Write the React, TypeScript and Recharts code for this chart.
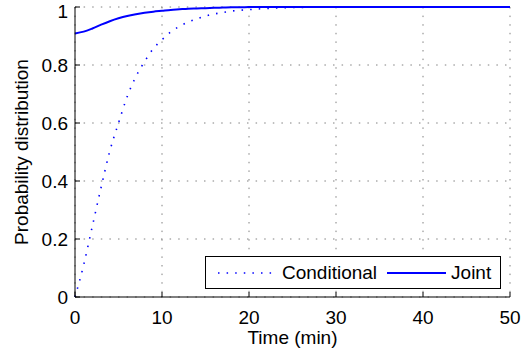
import React from 'react';
import { LineChart, Line, XAxis, YAxis, CartesianGrid, Legend } from 'recharts';

// minutes
const times = [0, 1, 2, 3, 4, 5, 6, 7, 8, 9, 10, 11, 12, 13, 14, 15, 16, 17, 18, 19, 20, 22, 25, 30, 40, 50];
const conditional = [
  0, 0.111, 0.245, 0.378, 0.503, 0.6, 0.691, 0.76, 0.812, 0.856, 0.887, 0.914, 0.933, 0.948, 0.959,
  0.969, 0.976, 0.981, 0.986, 0.989, 0.991, 0.995, 0.998, 1, 1, 1,
];
const joint = [
  0.909, 0.915, 0.926, 0.939, 0.951, 0.961, 0.969, 0.975, 0.98, 0.984, 0.987, 0.99, 0.992, 0.994, 0.995,
  0.996, 0.997, 0.998, 0.999, 0.999, 1, 1, 1, 1, 1, 1,
];
const xTicks = [0, 10, 20, 30, 40, 50];
const yTicks = [0, 0.2, 0.4, 0.6, 0.8, 1];

const rows = times.map((t, i) => ({ t, conditional: conditional[i], joint: joint[i] }));

const FONT = '"Liberation Sans", Arial, sans-serif';
const BLUE = '#0000ff';
const DOTS = '1.5 7.1';

const LegendBox = (props: any) => {
  const { payload = [] } = props;
  return (
    <div
      style={{
        boxSizing: 'border-box',
        width: 296,
        height: 33,
        border: '1px solid #000',
        background: '#fff',
        display: 'flex',
        alignItems: 'center',
        fontFamily: FONT,
        fontSize: 19,
        color: '#000',
        lineHeight: 1,
      }}
    >
      {payload.map((entry: any, i: number) => {
        const dotted = entry.dataKey === 'conditional';
        const w = dotted ? 54 : 59;
        return (
          <React.Fragment key={entry.value}>
            <svg width={w} height={10} style={{ marginLeft: i === 0 ? 12 : 10, display: 'block' }}>
              <line
                x1={0}
                y1={5}
                x2={w}
                y2={5}
                stroke={entry.color}
                strokeWidth={dotted ? 1.6 : 2}
                strokeDasharray={dotted ? DOTS : undefined}
              />
            </svg>
            <span style={{ marginLeft: dotted ? 10 : 5 }}>{entry.value}</span>
          </React.Fragment>
        );
      })}
    </div>
  );
};

export default function App() {
  return (
    <div style={{ position: 'absolute', left: 0, top: 0, background: '#fff' }}>
      <LineChart
        width={527}
        height={356}
        data={rows}
        margin={{ top: 7, right: 17, left: 0, bottom: 0 }}
        style={{ fontFamily: FONT }}
      >
        <CartesianGrid stroke="#808080" strokeDasharray={DOTS} />
        <XAxis
          dataKey="t"
          type="number"
          domain={[0, 50]}
          ticks={xTicks}
          height={59}
          tickSize={-5}
          tickMargin={19}
          axisLine={{ stroke: '#000' }}
          tickLine={{ stroke: '#000' }}
          tick={{ fontSize: 19, fill: '#000', fontFamily: FONT }}
          label={{ value: 'Time (min)', position: 'insideBottom', offset: 12, fontSize: 19, fill: '#000', fontFamily: FONT }}
        />
        <YAxis
          type="number"
          domain={[0, 1]}
          ticks={yTicks}
          width={75}
          tickSize={-5}
          tickMargin={12}
          axisLine={{ stroke: '#000' }}
          tickLine={{ stroke: '#000' }}
          tick={{ fontSize: 19, fill: '#000', fontFamily: FONT }}
          label={{
            value: 'Probability distribution',
            angle: -90,
            position: 'center',
            dx: -16,
            fontSize: 19,
            fill: '#000',
            fontFamily: FONT,
          }}
        />
        <Legend
          layout="horizontal"
          verticalAlign="middle"
          align="center"
          content={<LegendBox />}
          wrapperStyle={{ left: 205, top: 256, width: 296, height: 33 }}
        />
        <Line
          type="monotone"
          dataKey="conditional"
          name="Conditional"
          stroke={BLUE}
          strokeWidth={1.6}
          strokeDasharray={DOTS}
          dot={false}
          isAnimationActive={false}
        />
        <Line
          type="monotone"
          dataKey="joint"
          name="Joint"
          stroke={BLUE}
          strokeWidth={2}
          dot={false}
          isAnimationActive={false}
        />
      </LineChart>
    </div>
  );
}
